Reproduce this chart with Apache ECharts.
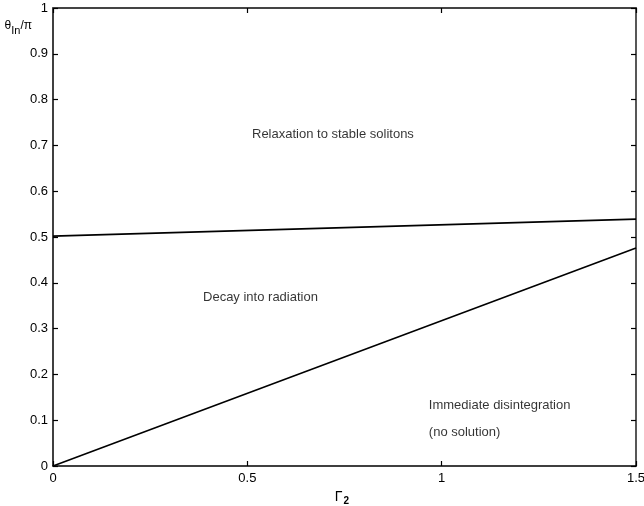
<!DOCTYPE html>
<html>
<head>
<meta charset="utf-8">
<script src="https://cdn.jsdelivr.net/npm/echarts@6/dist/echarts.min.js"></script>
<style>
  html, body { margin: 0; padding: 0; background: #fff; }
  #chart { width: 644px; height: 506px; }
</style>
</head>
<body>
<div id="chart"></div>
<script>
// Boundary curves in the (Gamma_2, theta_in/pi) plane
const gamma2 = [0, 1.5];
const upperBoundary = [0.502, 0.539];   // relaxation vs. decay
const lowerBoundary = [0.0, 0.476];     // decay vs. immediate disintegration

// Region captions: [x, y, text]
const regionLabels = [
  [0.512, 0.723, 'Relaxation to stable solitons'],
  [0.386, 0.367, 'Decay into radiation'],
  [0.967, 0.133, 'Immediate disintegration'],
  [0.967, 0.074, '(no solution)']
];

const xTicks = ['0', '0.5', '1', '1.5'];
const yTicks = ['0', '0.1', '0.2', '0.3', '0.4', '0.5', '0.6', '0.7', '0.8', '0.9', '1'];

const font = 'Liberation Sans, Arial, Helvetica, sans-serif';

const chart = echarts.init(document.getElementById('chart'), null, { renderer: 'canvas' });

// Mirrored axes that close the box on the top and right edges
const boxAxis = {
  axisLine: { show: true, onZero: false, lineStyle: { color: '#444', width: 1.8 } },
  axisTick: { show: true, inside: true, length: 5, lineStyle: { color: '#000', width: 1.2 } },
  axisLabel: { show: false },
  splitLine: { show: false }
};

chart.setOption({
  animation: false,
  backgroundColor: '#fff',
  grid: { left: 53, right: 8, top: 8, bottom: 40, outerBoundsMode: 'none', containLabel: false },
  xAxis: [
    {
      type: 'value', min: 0, max: 1.5, interval: 0.5, position: 'bottom',
      name: '{g|Γ}{s|2}', nameLocation: 'middle', nameGap: 15,
      nameTextStyle: {
        padding: [0, 5, 0, 0],
        rich: {
          g: { fontFamily: font, fontSize: 14, color: '#000' },
          s: { fontFamily: font, fontSize: 10, color: '#000', fontWeight: 'bold', padding: [9, 0, 0, 1] }
        }
      },
      axisLine: { show: true, onZero: false, lineStyle: { color: '#000', width: 1.5 } },
      axisTick: { show: true, inside: true, length: 5, lineStyle: { color: '#000', width: 1.2 } },
      axisLabel: {
        margin: 6, color: '#000', fontFamily: font, fontSize: 13,
        formatter: v => xTicks[Math.round(v / 0.5)]
      },
      splitLine: { show: false }
    },
    Object.assign({ type: 'value', min: 0, max: 1.5, interval: 0.5, position: 'top' }, boxAxis)
  ],
  yAxis: [
    {
      type: 'value', min: 0, max: 1, interval: 0.1, position: 'left',
      name: '{t|θ}{s|In}{t|/π}', nameLocation: 'end', nameGap: -28,
      nameTextStyle: {
        align: 'right', padding: [0, 21, 0, 0],
        rich: {
          t: { fontFamily: font, fontSize: 12, color: '#000' },
          s: { fontFamily: font, fontSize: 11, color: '#000', padding: [9, 0, 0, 0] }
        }
      },
      axisLine: { show: true, onZero: false, lineStyle: { color: '#000', width: 1.5 } },
      axisTick: { show: true, inside: true, length: 5, lineStyle: { color: '#000', width: 1.2 } },
      axisLabel: {
        margin: 5, color: '#000', fontFamily: font, fontSize: 13,
        formatter: v => yTicks[Math.round(v * 10)]
      },
      splitLine: { show: false }
    },
    Object.assign({ type: 'value', min: 0, max: 1, interval: 0.1, position: 'right' }, boxAxis)
  ],
  series: [
    {
      type: 'line', xAxisIndex: 0, yAxisIndex: 0,
      data: gamma2.map((g, i) => [g, upperBoundary[i]]),
      symbol: 'none', lineStyle: { color: '#000', width: 1.6 }
    },
    {
      type: 'line', xAxisIndex: 0, yAxisIndex: 0,
      data: gamma2.map((g, i) => [g, lowerBoundary[i]]),
      symbol: 'none', lineStyle: { color: '#000', width: 1.6 }
    },
    {
      type: 'scatter', xAxisIndex: 0, yAxisIndex: 0,
      symbolSize: 0,
      data: regionLabels.map(r => ({ value: [r[0], r[1]], name: r[2] })),
      label: {
        show: true, position: 'right', distance: 0,
        formatter: p => p.name,
        color: '#000', fontFamily: font, fontSize: 13
      },
      silent: true
    }
  ]
});
</script>
</body>
</html>
